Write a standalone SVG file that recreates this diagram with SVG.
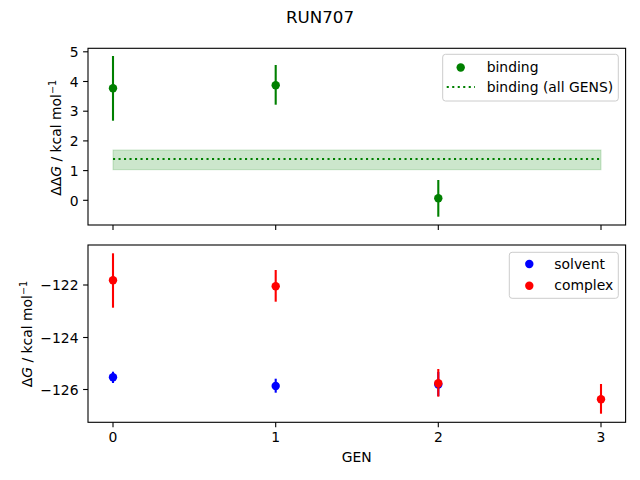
<svg xmlns="http://www.w3.org/2000/svg" width="640" height="480" viewBox="0 0 640 480">
<style>
text{font-family:"DejaVu Sans","Liberation Sans",sans-serif;font-size:13.9px;fill:#000}
.t{text-anchor:end}
.c{text-anchor:middle}
.ax{fill:none;stroke:#000;stroke-width:1.1}
.tk{stroke:#000;stroke-width:1.1}
.eg{stroke:#008000;stroke-width:2.1}
.er{stroke:#ff0000;stroke-width:2.1}
.eb{stroke:#0000ff;stroke-width:2.1}
.lg{fill:#fff;fill-opacity:0.8;stroke:#cccccc;stroke-width:1}
</style>
<rect width="640" height="480" fill="#fff"/>
<text x="320" y="22.5" class="c" style="font-size:16.7px">RUN707</text>

<g id="top-axes">
<rect x="113" y="150" width="488" height="19.7" fill="#008000" fill-opacity="0.2" stroke="#008000" stroke-opacity="0.2"/>
<line x1="113" y1="159" x2="601" y2="159" stroke="#008000" stroke-width="2.1" stroke-dasharray="2.1,3.4"/>
<g id="binding-points">
<line class="eg" x1="113" y1="56" x2="113" y2="120.7"/>
<circle cx="113" cy="88.3" r="4.2" fill="#008000"/>
<line class="eg" x1="275.7" y1="65" x2="275.7" y2="104.7"/>
<circle cx="275.7" cy="85.3" r="4.2" fill="#008000"/>
<line class="eg" x1="438.3" y1="180" x2="438.3" y2="216.7"/>
<circle cx="438.3" cy="198.3" r="4.2" fill="#008000"/>
</g>
<rect class="ax" x="88" y="48.3" width="537.6" height="176.7"/>
<g class="tk">
<line x1="88" y1="51.8" x2="83.1" y2="51.8"/>
<line x1="88" y1="81.5" x2="83.1" y2="81.5"/>
<line x1="88" y1="111.2" x2="83.1" y2="111.2"/>
<line x1="88" y1="140.9" x2="83.1" y2="140.9"/>
<line x1="88" y1="170.6" x2="83.1" y2="170.6"/>
<line x1="88" y1="200.3" x2="83.1" y2="200.3"/>
<line x1="113" y1="225" x2="113" y2="229.9"/>
<line x1="275.7" y1="225" x2="275.7" y2="229.9"/>
<line x1="438.3" y1="225" x2="438.3" y2="229.9"/>
<line x1="601" y1="225" x2="601" y2="229.9"/>
</g>
<text class="t" x="78.5" y="57">5</text>
<text class="t" x="78.5" y="86.7">4</text>
<text class="t" x="78.5" y="116.4">3</text>
<text class="t" x="78.5" y="146.1">2</text>
<text class="t" x="78.5" y="175.8">1</text>
<text class="t" x="78.5" y="205.5">0</text>
<text class="c" transform="translate(60.5,137.8) rotate(-90)">ΔΔ<tspan font-style="italic">G</tspan> / kcal mol<tspan dy="-5" style="font-size:9.7px">−1</tspan></text>
<g id="legend-top">
<rect class="lg" x="442.7" y="54.3" width="175.6" height="46.7" rx="2.8"/>
<circle cx="460.7" cy="67.5" r="4.2" fill="#008000"/>
<line x1="446.7" y1="87" x2="475" y2="87" stroke="#008000" stroke-width="2.1" stroke-dasharray="2.1,3.4"/>
<text x="486.7" y="71.5">binding</text>
<text x="486.7" y="92">binding (all GENS)</text>
</g>
</g>

<g id="bottom-axes">
<g id="solvent-points">
<line class="eb" x1="113" y1="371.7" x2="113" y2="383"/>
<circle cx="113" cy="377.3" r="4.2" fill="#0000ff"/>
<line class="eb" x1="275.7" y1="378.7" x2="275.7" y2="392.7"/>
<circle cx="275.7" cy="386" r="4.2" fill="#0000ff"/>
<line class="eb" x1="438.3" y1="372" x2="438.3" y2="396"/>
<circle cx="438.3" cy="384.5" r="4.2" fill="#0000ff"/>
</g>
<g id="complex-points">
<line class="er" x1="113" y1="253.3" x2="113" y2="307.7"/>
<circle cx="113" cy="280.3" r="4.2" fill="#ff0000"/>
<line class="er" x1="275.7" y1="270" x2="275.7" y2="301.7"/>
<circle cx="275.7" cy="286.3" r="4.2" fill="#ff0000"/>
<line class="er" x1="438.3" y1="369" x2="438.3" y2="396.7"/>
<circle cx="438.3" cy="383.3" r="4.2" fill="#ff0000"/>
<line class="er" x1="601" y1="384" x2="601" y2="413.7"/>
<circle cx="601" cy="399.3" r="4.2" fill="#ff0000"/>
</g>
<rect class="ax" x="88" y="245" width="537.6" height="177.3"/>
<g class="tk">
<line x1="88" y1="285" x2="83.1" y2="285"/>
<line x1="88" y1="337.5" x2="83.1" y2="337.5"/>
<line x1="88" y1="389.5" x2="83.1" y2="389.5"/>
<line x1="113" y1="422.3" x2="113" y2="427.2"/>
<line x1="275.7" y1="422.3" x2="275.7" y2="427.2"/>
<line x1="438.3" y1="422.3" x2="438.3" y2="427.2"/>
<line x1="601" y1="422.3" x2="601" y2="427.2"/>
</g>
<text class="t" x="78.5" y="290.2">−122</text>
<text class="t" x="78.5" y="342.7">−124</text>
<text class="t" x="78.5" y="394.7">−126</text>
<text class="c" x="113" y="442">0</text>
<text class="c" x="275.7" y="442">1</text>
<text class="c" x="438.3" y="442">2</text>
<text class="c" x="601" y="442">3</text>
<text class="c" x="356.8" y="462">GEN</text>
<text class="c" transform="translate(31.5,334) rotate(-90)">Δ<tspan font-style="italic">G</tspan> / kcal mol<tspan dy="-5" style="font-size:9.7px">−1</tspan></text>
<g id="legend-bottom">
<rect class="lg" x="509.3" y="252.3" width="109" height="46" rx="2.8"/>
<circle cx="529.3" cy="264" r="4.2" fill="#0000ff"/>
<circle cx="529.3" cy="285.7" r="4.2" fill="#ff0000"/>
<text x="554.3" y="268.5">solvent</text>
<text x="554.3" y="290">complex</text>
</g>
</g>
</svg>
